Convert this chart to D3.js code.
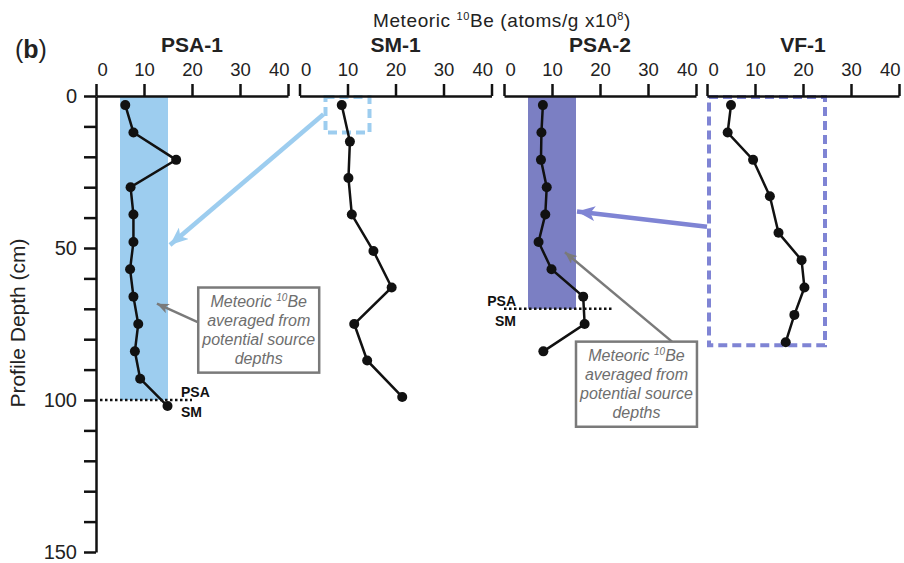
<!DOCTYPE html>
<html><head><meta charset="utf-8">
<script src="https://cdn.jsdelivr.net/npm/d3@7"></script>
<style>body{margin:0;background:#fff}svg{display:block;font-family:"Liberation Sans",Arial,sans-serif}</style>
</head><body><svg id="c" width="904" height="563"></svg>
<script>
// ---- data ----
const panelNames = ["PSA-1", "SM-1", "PSA-2", "VF-1"];
const xTickValues = [0, 10, 20, 30, 40];
const yTickValues = [0, 10, 20, 30, 40, 50, 60, 70, 80, 90, 100, 110, 120, 130, 140, 150];
const yTickLabels = [0, 50, 100, 150];

const psa1Depth = [3, 12, 21, 30, 39, 48, 57, 66, 75, 84, 93, 102];
const psa1Be    = [6.1, 7.8, 16.7, 7.2, 7.8, 7.8, 7.1, 7.8, 8.8, 8.1, 9.2, 14.9];
const sm1Depth  = [3, 15, 27, 39, 51, 63, 75, 87, 99];
const sm1Be     = [8.8, 10.5, 10.2, 10.9, 15.4, 19.2, 11.4, 14.1, 21.4];
const psa2Depth = [3, 12, 21, 30, 39, 48, 57, 66, 75, 84];
const psa2Be    = [8.1, 7.8, 7.7, 8.9, 8.6, 7.2, 9.9, 16.5, 16.8, 8.2];
const vf1Depth  = [3, 12, 21, 33, 45, 54, 63, 72, 81];
const vf1Be     = [5.0, 4.3, 9.6, 13.1, 14.9, 19.7, 20.3, 18.2, 16.4];

// averaged source-depth bands [xmin, xmax, depthTop, depthBottom]
const psa1Band = [5, 15, 0, 100];
const psa2Band = [5, 15, 0, 70];
// potential source depths (dashed boxes)
const sm1Box = [5, 15, 0, 12];
const vf1Box = [0, 25, 0, 82];
// PSA / SM boundaries (depth)
const psa1Boundary = 100;
const psa2Boundary = 70;

// ---- layout ----
const svg = d3.select("#c");
const panelLeft = [96, 299.5, 504, 707];
const panelW = 192;
const y = d3.scaleLinear().domain([0, 150]).range([96, 552]);
const xs = panelLeft.map(l => d3.scaleLinear().domain([0, 40]).range([l, l + panelW]));

const lightBlue = "#9dcdef";
const purple = "#7b7fc3";
const purpleDash = "#7f84d4";
const gray = "#7a7a7a";

// bands
function band(xi, b, color) {
  svg.append("rect").attr("x", xs[xi](b[0])).attr("y", y(b[2]))
    .attr("width", xs[xi](b[1]) - xs[xi](b[0])).attr("height", y(b[3]) - y(b[2]))
    .attr("fill", color);
}
band(0, psa1Band, lightBlue);
band(2, psa2Band, purple);

// dashed boxes
function dbox(xi, b, color) {
  const inset = 2;
  svg.append("rect").attr("x", xs[xi](b[0]) + inset).attr("y", y(b[2]) + 1)
    .attr("width", xs[xi](b[1]) - xs[xi](b[0]) - inset * 2).attr("height", y(b[3]) - y(b[2]) - 1)
    .attr("fill", "none").attr("stroke", color).attr("stroke-width", 4)
    .attr("stroke-dasharray", "9,5");
}
dbox(1, sm1Box, lightBlue);
dbox(3, vf1Box, purpleDash);

// markers
const defs = svg.append("defs");
function marker(id, color, w, h) {
  defs.append("marker").attr("id", id).attr("viewBox", `0 0 ${w} ${h}`)
    .attr("refX", w).attr("refY", h / 2).attr("markerWidth", w).attr("markerHeight", h)
    .attr("markerUnits", "userSpaceOnUse").attr("orient", "auto")
    .append("path").attr("d", `M0,0 L${w},${h/2} L0,${h} L${w*0.25},${h/2} Z`).attr("fill", color);
}
marker("ab", lightBlue, 18, 15);
marker("ap", purpleDash, 18, 15);
marker("ag", gray, 12, 10);

// big arrows
function arrow(p1, p2, color, mid, sw) {
  svg.append("line").attr("x1", p1[0]).attr("y1", p1[1]).attr("x2", p2[0]).attr("y2", p2[1])
    .attr("stroke", color).attr("stroke-width", sw).attr("marker-end", `url(#${mid})`);
}
arrow([xs[1](5), y(6)], [xs[0](15) + 2, y(49)], lightBlue, "ab", 4.5);
arrow([xs[3](0), y(43)], [xs[2](15) + 1, y(38)], purpleDash, "ap", 4.5);

// boundaries (dotted)
svg.append("line").attr("x1", xs[0](0) + 4).attr("x2", xs[0](20)).attr("y1", y(psa1Boundary)).attr("y2", y(psa1Boundary))
  .attr("stroke", "#111").attr("stroke-width", 2.5).attr("stroke-dasharray", "2.5,2.5");
svg.append("line").attr("x1", xs[2](0)).attr("x2", xs[2](22.5)).attr("y1", y(psa2Boundary)).attr("y2", y(psa2Boundary))
  .attr("stroke", "#111").attr("stroke-width", 2.5).attr("stroke-dasharray", "2.5,2.5");

function bLabel(xp, anchor, depth) {
  const g = svg.append("g").attr("font-weight", "bold").attr("font-size", 14).attr("fill", "#111").attr("text-anchor", anchor);
  g.append("text").attr("x", xp).attr("y", y(depth) - 3).text("PSA");
  g.append("text").attr("x", xp).attr("y", y(depth) + 17).text("SM");
}
bLabel(xs[0](17.7), "start", psa1Boundary);
bLabel(xs[2](2.5), "end", psa2Boundary);

// profiles
const line = d3.line();
function profile(xi, be, depth) {
  const pts = be.map((v, i) => [xs[xi](v), y(depth[i])]);
  svg.append("path").attr("d", line(pts)).attr("fill", "none").attr("stroke", "#111").attr("stroke-width", 2.5);
  svg.selectAll(null).data(pts).enter().append("circle")
    .attr("cx", d => d[0]).attr("cy", d => d[1]).attr("r", 5).attr("fill", "#111");
}
profile(0, psa1Be, psa1Depth);
profile(1, sm1Be, sm1Depth);
profile(2, psa2Be, psa2Depth);
profile(3, vf1Be, vf1Depth);

// top axes
xs.forEach((sc, i) => {
  const g = svg.append("g").attr("transform", `translate(0,${y(0)})`)
    .call(d3.axisTop(sc).tickValues(xTickValues).tickSize(12).tickSizeOuter(0).tickPadding(8).tickFormat(d3.format("d")));
  g.select(".domain").attr("stroke", "#111").attr("stroke-width", 2.5);
  g.selectAll(".tick line").attr("stroke", "#111").attr("stroke-width", 2.5);
  g.selectAll(".tick text").attr("font-size", 18.5).attr("fill", "#222").attr("font-family", "Liberation Sans, Arial, sans-serif")
    .attr("text-anchor", d => d === 0 ? "start" : d === 40 ? "end" : "middle")
    .attr("dx", d => d === 0 ? 1 : d === 40 ? 1 : 0);
  svg.append("text").attr("x", (sc.range()[0] + sc.range()[1]) / 2).attr("y", 52)
    .attr("text-anchor", "middle").attr("font-weight", "bold").attr("font-size", 21).attr("fill", "#222")
    .text(panelNames[i]);
});

// left axis
const ya = svg.append("g").attr("transform", `translate(${panelLeft[0]},0)`)
  .call(d3.axisLeft(y).tickValues(yTickValues).tickSize(12).tickSizeOuter(0).tickPadding(7)
    .tickFormat(d => yTickLabels.includes(d) ? d : ""));
ya.select(".domain").attr("stroke", "#111").attr("stroke-width", 2.5);
ya.selectAll(".tick line").attr("stroke", "#111").attr("stroke-width", 2.5);
ya.selectAll(".tick text").attr("font-size", 20).attr("fill", "#222").attr("font-family", "Liberation Sans, Arial, sans-serif");

svg.append("text").attr("transform", `translate(25,${(y(0)+y(150))/2 - 1}) rotate(-90)`)
  .attr("text-anchor", "middle").attr("font-size", 21).attr("fill", "#222").text("Profile Depth (cm)");

// title
const t = svg.append("text").attr("x", 502).attr("y", 27).attr("text-anchor", "middle")
  .attr("font-size", 19).attr("fill", "#222").attr("letter-spacing", 0.6);
t.append("tspan").text("Meteoric ");
t.append("tspan").attr("font-size", 11).attr("dy", -7).text("10");
t.append("tspan").attr("dy", 7).text("Be (atoms/g x10");
t.append("tspan").attr("font-size", 11).attr("dy", -7).text("8");
t.append("tspan").attr("dy", 7).text(")");

const b = svg.append("text").attr("x", 15).attr("y", 58).attr("font-size", 25).attr("fill", "#222");
b.append("tspan").text("(");
b.append("tspan").attr("font-weight", "bold").text("b");
b.append("tspan").text(")");

// annotation boxes
function note(xi, xr, dr, from, to) {
  const x0 = xs[xi](xr[0]), x1 = xs[xi](xr[1]), y0 = y(dr[0]), y1 = y(dr[1]);
  svg.append("line").attr("x1", from[0]).attr("y1", from[1]).attr("x2", to[0]).attr("y2", to[1])
    .attr("stroke", gray).attr("stroke-width", 2.5).attr("marker-end", "url(#ag)");
  svg.append("rect").attr("x", x0).attr("y", y0).attr("width", x1 - x0).attr("height", y1 - y0)
    .attr("fill", "#fff").attr("stroke", gray).attr("stroke-width", 2.5);
  const cx = (x0 + x1) / 2;
  const lines = ["", "averaged from", "potential source", "depths"];
  const g = svg.append("g").attr("font-style", "italic").attr("font-size", 16).attr("fill", "#6e6e6e").attr("text-anchor", "middle");
  const first = g.append("text").attr("x", cx).attr("y", y0 + 19);
  first.append("tspan").text("Meteoric ");
  first.append("tspan").attr("font-size", 10).attr("dy", -6).text("10");
  first.append("tspan").attr("dy", 6).text("Be");
  lines.slice(1).forEach((s, i) => g.append("text").attr("x", cx).attr("y", y0 + 19 + (i + 1) * 19).text(s));
}
note(0, [21.3, 46.5], [63, 91], [xs[0](21.3), y(74.5)], [xs[0](12.7), y(68.3)]);
note(2, [15, 40.2], [80.8, 108.8], [xs[2](35), y(80.8)], [xs[2](12.7), y(51.4)]);
</script></body></html>
